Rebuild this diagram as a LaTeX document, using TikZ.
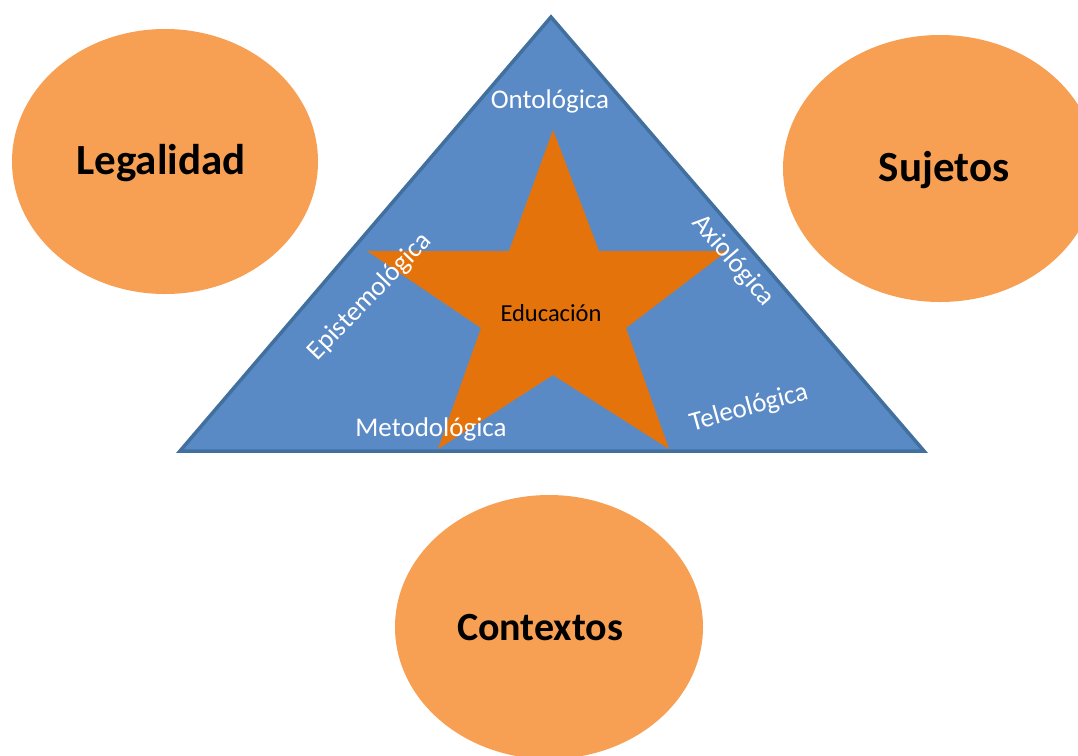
\documentclass[tikz,border=0pt]{standalone}
\usepackage{fontspec}
\setmainfont{Carlito}
\usetikzlibrary{shapes.geometric}
\definecolor{triblue}{HTML}{5A8AC6}
\definecolor{triedge}{HTML}{41709F}
\definecolor{starorange}{HTML}{E4730B}
\definecolor{blob}{HTML}{F79F52}
\tikzset{
  blobnode/.style={ellipse, fill=blob, inner sep=0pt},
  blobtext/.style={font=\fontsize{43}{50}\selectfont\bfseries, text=black, inner sep=0pt},
  facet/.style={text=white, font=\fontsize{27}{31}\selectfont, inner sep=0pt}
}
\begin{document}
\begin{tikzpicture}[x=1pt,y=-1pt]
\path[use as bounding box] (0,0) rectangle (1078,755);
\clip (0,0) rectangle (1078,755);
% ovals
\node[blobnode, minimum width=306pt, minimum height=265pt] (leg) at (165,161.5) {};
\node[blobtext] (legt) at (161,163) {Legalidad};
\node[blobnode, minimum width=314pt, minimum height=267pt] (suj) at (940,168.5) {};
\node[blobtext] (sujt) at (944,170) {Sujetos};
\node[blobnode, minimum width=308pt, minimum height=264pt] (con) at (549,627) {};
\node[blobtext, font=\fontsize{40}{48}\selectfont\bfseries] (cont) at (540,628) {Contextos};
% triangle
\coordinate (apex) at (551,17);
\coordinate (bl) at (180,451);
\coordinate (br) at (924,451);
\draw[fill=triblue, draw=triedge, line width=3.5pt, line join=miter] (apex) -- (br) -- (bl) -- cycle;
% star
\coordinate (s1) at (553,130);
\coordinate (s2) at (599,251);
\coordinate (s3) at (727,251);
\coordinate (s4) at (626,328);
\coordinate (s5) at (669,449);
\coordinate (s6) at (553,375);
\coordinate (s7) at (438,449);
\coordinate (s8) at (481,328);
\coordinate (s9) at (367,251);
\coordinate (s10) at (509,251);
\fill[starorange] (s1) -- (s2) -- (s3) -- (s4) -- (s5) -- (s6) -- (s7) -- (s8) -- (s9) -- (s10) -- cycle;
% labels
\node[font=\fontsize{24.5}{28}\selectfont, text=black, inner sep=0pt] (edu) at (551,313) {Educación};
\node[facet] (ont) at (550,101) {Ontológica};
\node[facet, rotate=46] (epi) at (370,297) {Epistemológica};
\node[facet, rotate=-49] (axi) at (733,261) {Axiológica};
\node[facet] (met) at (431,429) {Metodológica};
\node[facet, rotate=15.5] (tel) at (749,408) {Teleológica};
\end{tikzpicture}
\end{document}
